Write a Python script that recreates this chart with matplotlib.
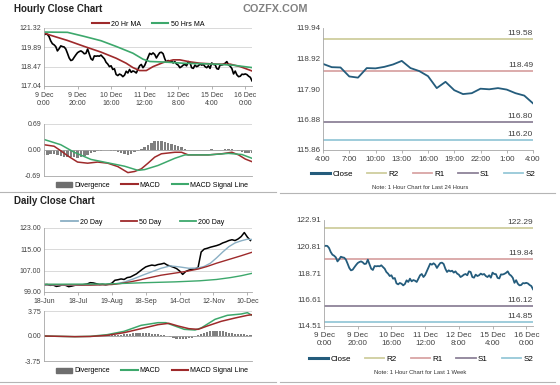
import matplotlib
matplotlib.use('Agg')
import matplotlib.pyplot as plt
from matplotlib.lines import Line2D
from matplotlib.patches import Patch

plt.rcParams['font.family'] = ['Liberation Sans', 'DejaVu Sans']

W, H = 560, 385

# ---- hourly data: 9 Dec 0:00 .. 16 Dec 4:00 (weekend skipped) ----
hourly_close = [
    120.82, 120.87, 120.85, 120.69, 120.37, 120.16, 120.08, 119.95, 119.63, 119.79,
    120.00, 119.95, 119.92, 119.77, 119.45, 119.11, 118.92, 118.97, 119.16, 119.34,
    119.50, 119.58, 119.63, 119.55, 119.42, 119.45, 119.77, 119.40, 119.05, 118.95,
    119.26, 119.24, 119.26, 119.24, 119.32, 119.18, 119.05, 118.79, 118.66, 118.47,
    118.53, 118.26, 118.31, 117.89, 117.81, 117.92, 117.86, 117.73, 117.84, 118.13,
    118.00, 118.26, 118.05, 118.15, 118.10, 118.00, 118.26, 118.53, 118.63, 118.39,
    118.55, 118.85, 119.15, 119.45, 119.37, 119.48, 119.37, 119.11, 119.32, 119.50,
    119.53, 119.42, 119.05, 118.79, 118.92, 118.84, 118.89, 118.74, 118.84, 118.66,
    118.58, 118.39, 118.47, 118.58, 118.63, 118.53, 118.84, 118.79, 118.39, 118.34,
    118.58, 118.47, 118.53, 118.66, 118.58, 118.63, 118.47, 118.39, 118.53, 118.34,
    118.74, 118.63, 118.62, 118.32, 118.28, 118.60, 118.59, 118.64, 118.72, 118.84,
    118.60, 118.50, 118.33, 117.93, 118.14, 117.86, 117.73, 117.76, 117.91, 117.89,
    117.93, 117.88, 117.76, 117.68, 117.42,
]
hour_ticks = [0, 20, 40, 60, 80, 100, 120]
hour_tick_labels = ['9 Dec\n0:00', '9 Dec\n20:00', '10 Dec\n16:00', '11 Dec\n12:00',
                    '12 Dec\n8:00', '15 Dec\n4:00', '16 Dec\n0:00']

ma20_hours = [0, 4, 14, 24, 34, 43, 49, 53, 57, 61, 65, 71, 77, 81, 87, 93, 103, 111, 117, 124]
ma20_values = [120.95, 120.78, 120.40, 119.96, 119.54, 119.09, 118.72, 118.40, 118.18, 118.18,
               118.47, 118.77, 118.97, 118.97, 118.82, 118.72, 118.65, 118.65, 118.47, 118.15]
ma50_hours = [0, 14, 24, 34, 43, 53, 59, 63, 73, 83, 103, 113, 124]
ma50_values = [121.02, 121.00, 120.70, 120.38, 119.96, 119.46, 119.02, 118.85, 118.80, 118.72,
               118.65, 118.57, 118.40]

macd_h_hours = [0, 6, 10, 14, 20, 26, 32, 38, 44, 50, 54, 58, 62, 66, 70, 78, 82, 86, 98, 106,
                112, 116, 120, 124]
macd_h_values = [0.14, 0.10, -0.02, -0.15, -0.32, -0.35, -0.32, -0.35, -0.44, -0.60, -0.57,
                 -0.50, -0.35, -0.19, -0.10, -0.06, -0.06, -0.13, -0.13, -0.10, -0.06, -0.13,
                 -0.24, -0.31]
signal_h_hours = [0, 10, 18, 28, 38, 48, 56, 60, 68, 78, 84, 98, 110, 118, 124]
signal_h_values = [0.28, 0.14, -0.06, -0.25, -0.34, -0.43, -0.54, -0.52, -0.41, -0.22, -0.13,
                   -0.13, -0.09, -0.12, -0.22]
div_h_hours = list(range(0, 125, 2))
div_h_values = [
    -0.14, -0.12, -0.11, -0.10, -0.13, -0.16, -0.18, -0.19, -0.19, -0.19,
    -0.20, -0.18, -0.15, -0.12, -0.08, -0.05, -0.03, -0.02, -0.01, -0.01,
    -0.02, -0.03, -0.05, -0.08, -0.11, -0.13, -0.10, -0.06, -0.02, 0.03,
    0.08, 0.13, 0.19, 0.23, 0.25, 0.24, 0.22, 0.19, 0.16, 0.13,
    0.10, 0.07, 0.03, 0.01, 0.00, 0.01, 0.00, -0.01, 0.00, 0.01,
    0.02, 0.01, 0.00, -0.01, 0.02, 0.03, 0.02, -0.01, -0.03, -0.05,
    -0.07, -0.08, -0.09,
]

# last 24 hours = last 25 hourly points
last24_ticks = [0, 3, 6, 9, 12, 15, 18, 21, 24]
last24_labels = ['4:00', '7:00', '10:00', '13:00', '16:00', '19:00', '22:00', '1:00', '4:00']

level_names = ['R2', 'R1', 'S1', 'S2']
level_colors = ['#CFCE9E', '#D9A5A5', '#8E8298', '#96C8D8']
levels_24h = [119.58, 118.49, 116.80, 116.20]
levels_week = [122.29, 119.84, 116.12, 114.85]

# ---- daily data ----
daily_days = list(range(0, 135, 2))
daily_close = [
    101.7, 101.8, 101.5, 101.6, 101.1, 101.3, 101.7, 101.5, 101.0, 101.2,
    101.5, 101.7, 101.6, 101.8, 102.0, 102.5, 102.4, 102.1, 101.8, 101.9,
    101.7, 101.9, 102.3, 103.4, 103.6, 103.9, 103.7, 104.4, 104.6, 105.2,
    105.8, 106.7, 107.6, 108.4, 108.8, 109.1, 108.9, 109.3, 109.5, 109.8,
    109.1, 108.7, 108.3, 107.8, 106.9, 105.6, 106.7, 107.2, 107.5, 107.6,
    108.2, 114.0, 115.1, 115.4, 115.8, 116.1, 116.4, 116.8, 117.4, 117.8,
    118.3, 118.6, 118.3, 118.9, 119.8, 121.3, 119.6, 118.3,
]
day_ticks = [0, 22, 44, 66, 88, 110, 132]
day_tick_labels = ['18-Jun', '18-Jul', '19-Aug', '18-Sep', '14-Oct', '12-Nov', '10-Dec']

ma20d_days = [0, 20, 40, 46, 52, 58, 64, 70, 76, 82, 88, 94, 100, 104, 108, 112, 116, 120, 124,
              128, 132, 135]
ma20d_values = [101.7, 101.5, 101.8, 102.0, 102.7, 103.9, 105.3, 106.6, 107.9, 108.8, 108.4,
                107.9, 108.0, 108.6, 109.8, 111.8, 114.0, 116.0, 117.4, 118.2, 118.8, 118.7]
ma50d_days = [0, 30, 44, 50, 56, 62, 68, 76, 84, 92, 100, 106, 112, 120, 128, 135]
ma50d_values = [101.8, 101.6, 101.8, 102.2, 102.8, 103.5, 104.3, 105.3, 106.0, 106.7, 107.6,
                108.6, 109.8, 111.2, 112.6, 113.9]
ma200d_days = [0, 40, 66, 85, 101, 112, 121, 128, 135]
ma200d_values = [101.9, 102.0, 102.5, 102.8, 103.2, 103.7, 104.4, 105.1, 106.0]

macd_d_days = [0, 20, 30, 41, 52, 63, 74, 79, 85, 91, 98, 102, 111, 119, 128, 132, 135]
macd_d_values = [0.0, -0.1, -0.05, 0.2, 0.7, 1.6, 2.0, 2.0, 1.5, 1.0, 0.9, 1.2, 2.5, 3.1, 3.3,
                 3.5, 3.1]
signal_d_days = [0, 20, 30, 41, 52, 63, 74, 81, 87, 94, 100, 106, 115, 124, 132, 135]
signal_d_values = [0.0, -0.1, -0.07, 0.1, 0.5, 1.1, 1.7, 1.9, 1.5, 1.1, 1.0, 1.5, 2.2, 2.7,
                   3.1, 3.2]
div_d_values = [
    0.0, 0.0, -0.02, -0.03, -0.04, -0.05, -0.05, -0.04, -0.03, -0.02,
    -0.01, 0.0, 0.02, 0.03, 0.02, 0.01, 0.0, 0.02, 0.03, 0.04,
    0.05, 0.08, 0.12, 0.16, 0.2, 0.22, 0.25, 0.3, 0.35, 0.42,
    0.48, 0.5, 0.5, 0.46, 0.42, 0.36, 0.3, 0.24, 0.15, 0.08,
    0.02, -0.1, -0.25, -0.4, -0.5, -0.52, -0.46, -0.36, -0.25, -0.1,
    0.1, 0.3, 0.5, 0.65, 0.75, 0.8, 0.8, 0.75, 0.7, 0.6,
    0.5, 0.42, 0.36, 0.32, 0.3, 0.26, 0.2, 0.1,
]

RED = '#9E2A2B'
GREEN = '#3DA86C'
BLUE_20D = '#8AAFC4'
CLOSE_BLUE = '#245C7C'
GRID = '#D3D3D3'
AXC = '#A6A6A6'
TXT = '#404040'

fig = plt.figure(figsize=(W / 100, H / 100), dpi=100)


def add_ax(left, top, right, bottom):
    return fig.add_axes([left / W, 1 - bottom / H, (right - left) / W, (bottom - top) / H])


def style(ax, size=5, grid=True):
    for s in ('top', 'right'):
        ax.spines[s].set_visible(False)
    for s in ('left', 'bottom'):
        ax.spines[s].set_color(AXC)
        ax.spines[s].set_linewidth(0.6)
    ax.tick_params(axis='both', labelsize=size, colors=TXT, length=0, pad=2)
    ax.tick_params(axis='x', length=2, color=AXC, width=0.6)
    if grid:
        ax.yaxis.grid(True, color=GRID, lw=0.6)
    ax.set_axisbelow(True)


def fig_line(x0, x1, y):
    fig.add_artist(Line2D([x0 / W, x1 / W], [1 - y / H] * 2, transform=fig.transFigure,
                          color='#B5B5B5', lw=0.8))


def fig_legend(handles, labels, x, y, size=5.5, spacing=1.6):
    fig.legend(handles, labels, loc='center', bbox_to_anchor=(x / W, 1 - y / H), ncol=len(labels),
               frameon=False, fontsize=size, handlelength=2.4, handletextpad=0.3,
               columnspacing=spacing, borderaxespad=0, borderpad=0)


# titles
fig.text(14 / W, 1 - 9 / H, 'Hourly Close Chart', fontsize=7, weight='bold', color='#222222',
         va='center')
fig.text(14 / W, 1 - 201 / H, 'Daily Close Chart', fontsize=7, weight='bold', color='#222222',
         va='center')
fig.text(275 / W, 1 - 9 / H, 'COZFX.COM', fontsize=7.8, weight='bold', color='#808080',
         va='center', ha='center')

fig_line(0, 276, 192)
fig_line(280, 555, 193)
fig_line(0, 276, 382)
fig_line(280, 555, 382)

hours = list(range(len(hourly_close)))

# ---- hourly price ----
ax = add_ax(44, 28, 252, 86)
style(ax)
ax.plot(hours, hourly_close, color='black', lw=1.2)
ax.plot(ma20_hours, ma20_values, color=RED, lw=1.2)
ax.plot(ma50_hours, ma50_values, color=GREEN, lw=1.2)
ax.set_xlim(0, 124)
ax.set_ylim(117.04, 121.32)
ax.set_yticks([117.04, 118.47, 119.89, 121.32])
ax.set_yticklabels(['117.04', '118.47', '119.89', '121.32'])
ax.set_xticks(hour_ticks)
ax.set_xticklabels(hour_tick_labels, linespacing=1.2)
fig_legend([Line2D([], [], color=RED, lw=1.5), Line2D([], [], color=GREEN, lw=1.5)],
           ['20 Hr MA', '50 Hrs MA'], 148, 24, size=5)

# ---- hourly MACD ----
ax = add_ax(44, 124, 252, 176)
style(ax)
ax.bar(div_h_hours, div_h_values, width=1.5, color='#7F7F7F', lw=0)
ax.axhline(0, color='#A0A0A0', lw=0.6)
ax.plot(macd_h_hours, macd_h_values, color=RED, lw=1.1)
ax.plot(signal_h_hours, signal_h_values, color=GREEN, lw=1.1)
ax.set_xlim(0, 124)
ax.set_ylim(-0.69, 0.69)
ax.set_yticks([-0.69, 0.0, 0.69])
ax.set_yticklabels(['-0.69', '0.00', '0.69'])
ax.set_xticks([])
fig_legend([Patch(color='#6E6E6E'), Line2D([], [], color=RED, lw=1.5),
            Line2D([], [], color=GREEN, lw=1.5)],
           ['Divergence', 'MACD', 'MACD Signal Line'], 152, 185, size=5)

# ---- daily price ----
ax = add_ax(44, 228, 252, 292)
style(ax)
ax.plot(daily_days, daily_close, color='black', lw=1.1)
ax.plot(ma20d_days, ma20d_values, color=BLUE_20D, lw=1.0)
ax.plot(ma50d_days, ma50d_values, color=RED, lw=1.0)
ax.plot(ma200d_days, ma200d_values, color=GREEN, lw=1.0)
ax.set_xlim(0, 135)
ax.set_ylim(99, 123)
ax.set_yticks([99, 107, 115, 123])
ax.set_yticklabels(['99.00', '107.00', '115.00', '123.00'])
ax.set_xticks(day_ticks)
ax.set_xticklabels(day_tick_labels)
fig_legend([Line2D([], [], color=BLUE_20D, lw=1.3), Line2D([], [], color=RED, lw=1.3),
            Line2D([], [], color=GREEN, lw=1.3)],
           ['20 Day', '50 Day', '200 Day'], 143, 222, size=5, spacing=2.6)

# ---- daily MACD ----
ax = add_ax(44, 311, 252, 361)
style(ax)
ax.bar(daily_days, div_d_values, width=1.4, color='#7F7F7F', lw=0)
ax.axhline(0, color='#A0A0A0', lw=0.6)
ax.plot(macd_d_days, macd_d_values, color=GREEN, lw=1.1)
ax.plot(signal_d_days, signal_d_values, color=RED, lw=1.1)
ax.set_xlim(0, 135)
ax.set_ylim(-3.75, 3.75)
ax.set_yticks([-3.75, 0.0, 3.75])
ax.set_yticklabels(['-3.75', '0.00', '3.75'])
ax.set_xticks([])
fig_legend([Patch(color='#6E6E6E'), Line2D([], [], color=GREEN, lw=1.5),
            Line2D([], [], color=RED, lw=1.5)],
           ['Divergence', 'MACD', 'MACD Signal Line'], 152, 371, size=5)


def level_panel(ax, xs, ys, levels, xmax):
    style(ax, size=5.8, grid=False)
    for name, lvl, col in zip(level_names, levels, level_colors):
        ax.axhline(lvl, color=col, lw=1.3)
        ax.annotate(f'{lvl:.2f}', (xmax, lvl), xytext=(0, 1.5), textcoords='offset points',
                    ha='right', va='bottom', fontsize=6, color=TXT)
    ax.plot(xs, ys, color=CLOSE_BLUE, lw=1.3)
    ax.set_xlim(0, xmax)
    ax.tick_params(axis='x', length=2.5)


level_handles = [Line2D([], [], color=CLOSE_BLUE, lw=2.2)] + \
    [Line2D([], [], color=c, lw=1.3) for c in level_colors]

# ---- last 24 hours ----
ax = add_ax(323, 28, 533, 150)
last24 = hourly_close[-25:]
level_panel(ax, list(range(len(last24))), last24, levels_24h, 24)
ax.set_ylim(115.86, 119.94)
ax.set_yticks([115.86, 116.88, 117.90, 118.92, 119.94])
ax.set_yticklabels(['115.86', '116.88', '117.90', '118.92', '119.94'])
ax.set_xticks(last24_ticks)
ax.set_xticklabels(last24_labels)
fig_legend(level_handles, ['Close'] + level_names, 423, 174, size=5.8, spacing=1.7)
fig.text(420 / W, 1 - 188 / H, 'Note: 1 Hour Chart for Last 24 Hours', fontsize=4.2,
         color='#333333', ha='center', va='center')

# ---- last week ----
ax = add_ax(324, 220, 533, 326)
level_panel(ax, hours, hourly_close, levels_week, 124)
ax.set_ylim(114.51, 122.91)
ax.set_yticks([114.51, 116.61, 118.71, 120.81, 122.91])
ax.set_yticklabels(['114.51', '116.61', '118.71', '120.81', '122.91'])
ax.set_xticks(hour_ticks)
ax.set_xticklabels(hour_tick_labels, linespacing=1.2)
fig_legend(level_handles, ['Close'] + level_names, 421, 359, size=5.8, spacing=1.7)
fig.text(420 / W, 1 - 373 / H, 'Note: 1 Hour Chart for Last 1 Week', fontsize=4.2,
         color='#333333', ha='center', va='center')

fig.savefig('out.png', dpi=100)
